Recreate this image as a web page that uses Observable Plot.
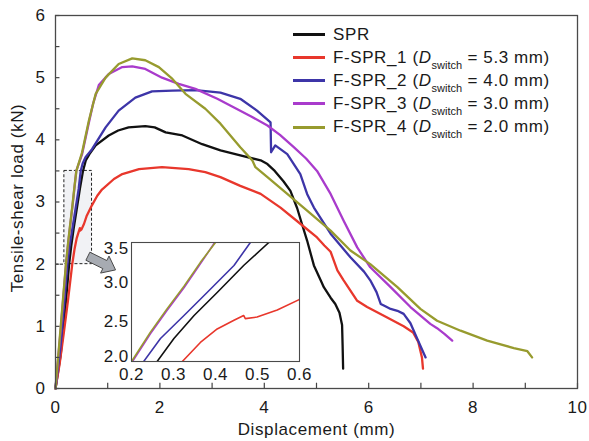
<!DOCTYPE html>
<html>
<head>
<meta charset="utf-8">
<script src="https://cdn.jsdelivr.net/npm/d3@7"></script>
<script src="https://cdn.jsdelivr.net/npm/@observablehq/plot@0.6"></script>
<style>
  html, body { margin: 0; padding: 0; background: white; }
  #wrap { position: relative; width: 589px; height: 441px; overflow: hidden; font-family: "Liberation Sans", Arial, sans-serif; color: #1a1a1a; }
  #inset { position: absolute; left: 100px; top: 225px; }
  #legend { position: absolute; left: 293px; top: 22.7px; font-size: 17px; letter-spacing: 0.6px; }
  #legend .row { display: flex; align-items: center; height: 23.2px; line-height: 23.2px; white-space: nowrap; }
  #legend .sw { width: 32px; height: 3px; margin-right: 8px; }
  #legend sub { font-size: 11px; vertical-align: -6px; line-height: 0; letter-spacing: 0; }
</style>
</head>
<body>
<div id="wrap"><div id="main"></div><div id="inset"></div><div id="legend"></div></div>
<script>
// ---- data (x: displacement mm, y: load kN) ----
const seriesNames = ["SPR", "F-SPR_1", "F-SPR_2", "F-SPR_3", "F-SPR_4"];
const dSwitch = [null, "5.3", "4.0", "3.0", "2.0"];

const spr = [[0,0],[0.1,0.55],[0.2,1.4],[0.261,2.0],[0.301,2.29],[0.349,2.58],[0.404,2.87],[0.467,3.21],[0.527,3.5],
  [0.58,3.67],[0.65,3.77],[0.77,3.91],[1.02,4.07],[1.2,4.15],[1.4,4.2],[1.72,4.22],[1.9,4.2],[2.11,4.12],[2.43,4.07],
  [2.81,3.93],[3.16,3.83],[3.54,3.75],[3.93,3.67],[4.06,3.61],[4.2,3.5],[4.37,3.33],[4.5,3.18],[4.63,2.9],[4.72,2.65],
  [4.82,2.38],[4.95,1.98],[5.08,1.74],[5.14,1.63],[5.27,1.46],[5.36,1.36],[5.44,1.22],[5.49,1.02],[5.5,0.7],[5.51,0.32]];

const fspr1 = [[0,0],[0.08,0.4],[0.16,0.9],[0.24,1.42],[0.321,2.0],[0.364,2.24],[0.404,2.41],[0.444,2.52],[0.467,2.58],
  [0.471,2.54],[0.499,2.56],[0.547,2.65],[0.599,2.78],[0.7,2.95],[0.8,3.1],[0.89,3.2],[1.12,3.37],[1.28,3.45],[1.6,3.53],
  [2.04,3.56],[2.55,3.53],[2.87,3.48],[3.16,3.4],[3.54,3.26],[3.93,3.13],[4.31,2.91],[4.69,2.65],[5.01,2.43],[5.15,2.3],
  [5.27,2.2],[5.4,1.9],[5.52,1.74],[5.78,1.41],[5.97,1.31],[6.29,1.17],[6.67,1.0],[6.85,0.9],[6.95,0.75],[7.02,0.5],[7.04,0.32]];

const fspr2 = [[0,0],[0.1,0.7],[0.229,2.0],[0.269,2.29],[0.325,2.58],[0.38,2.87],[0.444,3.21],[0.483,3.5],[0.52,3.62],
  [0.575,3.72],[0.7,3.85],[0.96,4.2],[1.21,4.47],[1.53,4.68],[1.85,4.78],[2.24,4.79],[2.68,4.8],[3.16,4.76],[3.54,4.66],
  [3.86,4.47],[4.12,4.28],[4.13,3.8],[4.21,3.91],[4.44,3.77],[4.69,3.45],[4.82,3.13],[4.95,2.91],[5.27,2.49],[5.52,2.24],
  [5.65,2.11],[5.91,1.88],[6.03,1.74],[6.15,1.55],[6.23,1.36],[6.3,1.33],[6.42,1.28],[6.55,1.25],[6.67,1.2],[6.8,1.05],
  [6.93,0.8],[7.09,0.5]];

const fspr3 = [[0,0],[0.1,0.95],[0.2,1.98],[0.245,2.35],[0.284,2.64],[0.325,2.93],[0.364,3.23],[0.398,3.5],[0.51,3.77],
  [0.64,4.28],[0.72,4.58],[0.83,4.88],[1.02,5.06],[1.28,5.17],[1.47,5.18],[1.72,5.14],[2.04,5.0],[2.36,4.9],[2.68,4.82],
  [3.1,4.66],[3.42,4.52],[3.74,4.38],[4.06,4.23],[4.3,4.08],[4.57,3.88],[4.8,3.7],[5.01,3.5],[5.27,3.13],[5.52,2.7],
  [5.78,2.27],[6.03,1.95],[6.42,1.63],[6.8,1.31],[7.18,1.04],[7.31,0.97],[7.45,0.88],[7.6,0.77]];

const fspr4 = [[0,0],[0.1,1.0],[0.2,2.0],[0.245,2.37],[0.284,2.66],[0.325,2.95],[0.364,3.25],[0.4,3.5],[0.51,3.8],
  [0.64,4.31],[0.77,4.74],[0.96,5.0],[1.21,5.22],[1.47,5.31],[1.72,5.28],[1.98,5.17],[2.24,4.98],[2.49,4.74],[2.87,4.5],
  [3.16,4.26],[3.54,3.88],[3.77,3.67],[3.83,3.56],[4.06,3.4],[4.44,3.13],[4.82,2.86],[5.27,2.54],[5.65,2.22],[6.03,2.0],
  [6.55,1.63],[6.99,1.28],[7.31,1.09],[7.76,0.93],[8.27,0.77],[8.78,0.65],[9.04,0.6],[9.13,0.5]];

const xTicks = [0, 2, 4, 6, 8, 10];
const xMinor = [1, 3, 5, 7, 9];
const yTicks = [0, 1, 2, 3, 4, 5, 6];
const yMinor = [0.5, 1.5, 2.5, 3.5, 4.5, 5.5];
const insetXTicks = [0.2, 0.3, 0.4, 0.5, 0.6];
const insetYTicksMid = [2.5, 3.0];
const insetYTickBottom = [2.0];
const insetYTickTop = [3.5];
const zoomBox = [{x1: 0.17, x2: 0.7, y1: 2.0, y2: 3.5}];
const arrowFrom = [0.63, 2.12];
const arrowTo = [1.16, 1.9];

const colors = ["#111111", "#e8372c", "#3d35a8", "#a93bcc", "#979b2e"];
const allSeries = [spr, fspr1, fspr2, fspr3, fspr4];
const rows = allSeries.flatMap((s, i) => s.map(([x, y]) => ({series: seriesNames[i], x, y})));

const font = '"Liberation Sans", Arial, sans-serif';

function arrowMark(index, scales) {
  const sx = scales.x, sy = scales.y;
  const x0 = sx(arrowFrom[0]), y0 = sy(arrowFrom[1]);
  const x1 = sx(arrowTo[0]), y1 = sy(arrowTo[1]);
  const dx = x1 - x0, dy = y1 - y0, L = Math.hypot(dx, dy);
  const ux = dx / L, uy = dy / L, nx = -uy, ny = ux;
  const sw = 4.5, hw = 9.5, hl = 12;
  const nxp = x1 - ux * hl, nyp = y1 - uy * hl;
  const pts = [
    [x0 + nx * sw, y0 + ny * sw], [nxp + nx * sw, nyp + ny * sw], [nxp + nx * hw, nyp + ny * hw],
    [x1, y1], [nxp - nx * hw, nyp - ny * hw], [nxp - nx * sw, nyp - ny * sw], [x0 - nx * sw, y0 - ny * sw]
  ];
  return d3.create("svg:path")
    .attr("d", "M" + pts.map(p => p.join(",")).join("L") + "Z")
    .attr("fill", "#a7abb2").attr("stroke", "#4a4a4a").attr("stroke-width", 1)
    .node();
}

const main = Plot.plot({
  width: 589, height: 441,
  marginLeft: 55, marginRight: 12, marginTop: 15, marginBottom: 53,
  style: {fontFamily: font, fontSize: "17px", letterSpacing: "0.6px", color: "#1a1a1a", background: "white", overflow: "visible"},
  x: {domain: [0, 10]},
  y: {domain: [0, 6]},
  color: {domain: seriesNames, range: colors},
  marks: [
    Plot.rect(zoomBox, {x1: "x1", x2: "x2", y1: "y1", y2: "y2", fill: "#eceef2", fillOpacity: 0.75, stroke: "#222", strokeWidth: 1, strokeDasharray: "3,2"}),
    Plot.ruleY([zoomBox[0].y1], {x1: 0, x2: zoomBox[0].x1, stroke: "#222", strokeWidth: 1, strokeDasharray: "3,2"}),
    Plot.line(rows, {x: "x", y: "y", z: "series", stroke: "series", strokeWidth: 2.3, strokeLinejoin: "round"}),
    Plot.ruleX(xTicks.concat(xMinor), {x: d => d, y1: 0, y2: 0.085, stroke: "#444", strokeWidth: 1.2}),
    Plot.ruleY(yTicks.concat(yMinor), {y: d => d, x1: 0, x2: 0.085, stroke: "#444", strokeWidth: 1.2}),
    Plot.frame({stroke: "#4a4a4a", strokeWidth: 1.3}),
    Plot.axisX({ticks: xTicks, tickFormat: d => String(d), tickSize: 0, tickPadding: 12, label: null, fontSize: 17}),
    Plot.axisY({ticks: yTicks, tickFormat: d => String(d), tickSize: 0, tickPadding: 10, label: null, fontSize: 17}),
    Plot.text(["Displacement (mm)"], {frameAnchor: "bottom", textAnchor: "middle", lineAnchor: "middle", dy: 41, fontSize: 17}),
    Plot.text(["Tensile-shear load (kN)"], {frameAnchor: "left", textAnchor: "middle", lineAnchor: "middle", dx: -38, dy: -4, rotate: -90, fontSize: 17}),
    arrowMark
  ]
});
document.getElementById("main").appendChild(main);

const fmt1 = d3.format(".1f");
const inset = Plot.plot({
  width: 225, height: 170,
  marginLeft: 31, marginRight: 26, marginTop: 17, marginBottom: 34,
  style: {fontFamily: font, fontSize: "17px", letterSpacing: "0.4px", color: "#1a1a1a", background: "transparent", overflow: "visible"},
  x: {domain: [0.2, 0.6]},
  y: {domain: [2.0, 3.5]},
  color: {domain: seriesNames, range: colors},
  marks: [
    Plot.frame({fill: "white", stroke: "none"}),
    Plot.line(rows, {x: "x", y: "y", z: "series", stroke: "series", strokeWidth: 1.6, clip: true}),
    Plot.frame({stroke: "#4a4a4a", strokeWidth: 1.1}),
    Plot.axisX({ticks: insetXTicks, tickFormat: fmt1, tickSize: 0, tickPadding: 6, label: null, fontSize: 17}),
    Plot.axisY({ticks: insetYTicksMid, tickFormat: fmt1, tickSize: 0, tickPadding: 3, label: null, fontSize: 17}),
    Plot.axisY({ticks: insetYTickBottom, tickFormat: fmt1, tickSize: 0, tickPadding: 3, label: null, fontSize: 17, dy: -5}),
    Plot.axisY({ticks: insetYTickTop, tickFormat: fmt1, tickSize: 0, tickPadding: 3, label: null, fontSize: 17, dy: 6})
  ]
});
document.getElementById("inset").appendChild(inset);

const legend = document.getElementById("legend");
seriesNames.forEach((name, i) => {
  const row = document.createElement("div");
  row.className = "row";
  const sw = document.createElement("div");
  sw.className = "sw";
  sw.style.background = colors[i];
  row.appendChild(sw);
  const t = document.createElement("span");
  if (dSwitch[i] == null) {
    t.textContent = name;
  } else {
    t.appendChild(document.createTextNode(name + " ("));
    const d = document.createElement("i"); d.textContent = "D"; t.appendChild(d);
    const sub = document.createElement("sub"); sub.textContent = "switch"; t.appendChild(sub);
    t.appendChild(document.createTextNode(" = " + dSwitch[i] + " mm)"));
  }
  row.appendChild(t);
  legend.appendChild(row);
});
</script>
</body>
</html>
